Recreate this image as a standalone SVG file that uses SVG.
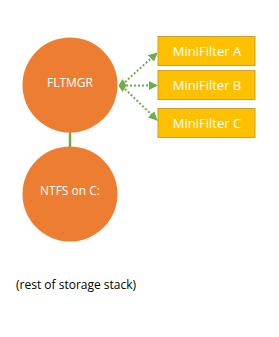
<svg xmlns="http://www.w3.org/2000/svg" width="279" height="337" viewBox="0 0 279 337">
<defs>
<style>
.circ{fill:#ED7D31;}
.box{fill:#FFC000;stroke:#C9A227;stroke-width:1;}
.lbl{font-family:"Open Sans","Liberation Sans",sans-serif;font-size:12px;fill:#FFFFFF;text-anchor:middle;dominant-baseline:central;}
.blbl{font-size:13px;}
.dot{stroke:#70AD47;stroke-width:2;stroke-dasharray:2 2;fill:none;}
.note{font-family:"Open Sans","Liberation Sans",sans-serif;font-size:12px;fill:#000000;}
</style>
<marker id="ah" viewBox="0 0 10 10" refX="9" refY="5" markerWidth="4.5" markerHeight="4.5" orient="auto" markerUnits="strokeWidth">
<path d="M0,0 L10,5 L0,10 Z" fill="#70AD47"/>
</marker>
</defs>
<rect width="279" height="337" fill="#FFFFFF"/>
<g id="connectors">
<line x1="70" y1="132" x2="70" y2="147" stroke="#70AD47" stroke-width="2.5"/>
<path d="M118.5,85.5 L122.5,79 L126.5,85.5 L122.5,92 Z" fill="#70AD47"/>
<line class="dot" x1="125" y1="82" x2="157" y2="53" marker-end="url(#ah)"/>
<line class="dot" x1="126" y1="85.5" x2="157" y2="85.5" marker-end="url(#ah)"/>
<line class="dot" x1="125" y1="89" x2="157" y2="120" marker-end="url(#ah)"/>
</g>
<g id="fltmgr">
<circle class="circ" cx="70" cy="85" r="47.5"/>
<text class="lbl" x="70" y="82">FLTMGR</text>
</g>
<g id="ntfs">
<circle class="circ" cx="70" cy="194" r="47.5"/>
<text class="lbl" x="70" y="190">NTFS on C:</text>
</g>
<g id="miniA">
<rect class="box" x="158" y="36.5" width="97" height="29"/>
<text class="lbl blbl" x="207" y="51">MiniFilter A</text>
</g>
<g id="miniB">
<rect class="box" x="158" y="70.5" width="97" height="29"/>
<text class="lbl blbl" x="207" y="85">MiniFilter B</text>
</g>
<g id="miniC">
<rect class="box" x="158" y="108.5" width="97" height="29"/>
<text class="lbl blbl" x="207" y="123">MiniFilter C</text>
</g>
<g id="rest">
<text class="note" x="16" y="289">(rest of storage stack)</text>
</g>
</svg>
